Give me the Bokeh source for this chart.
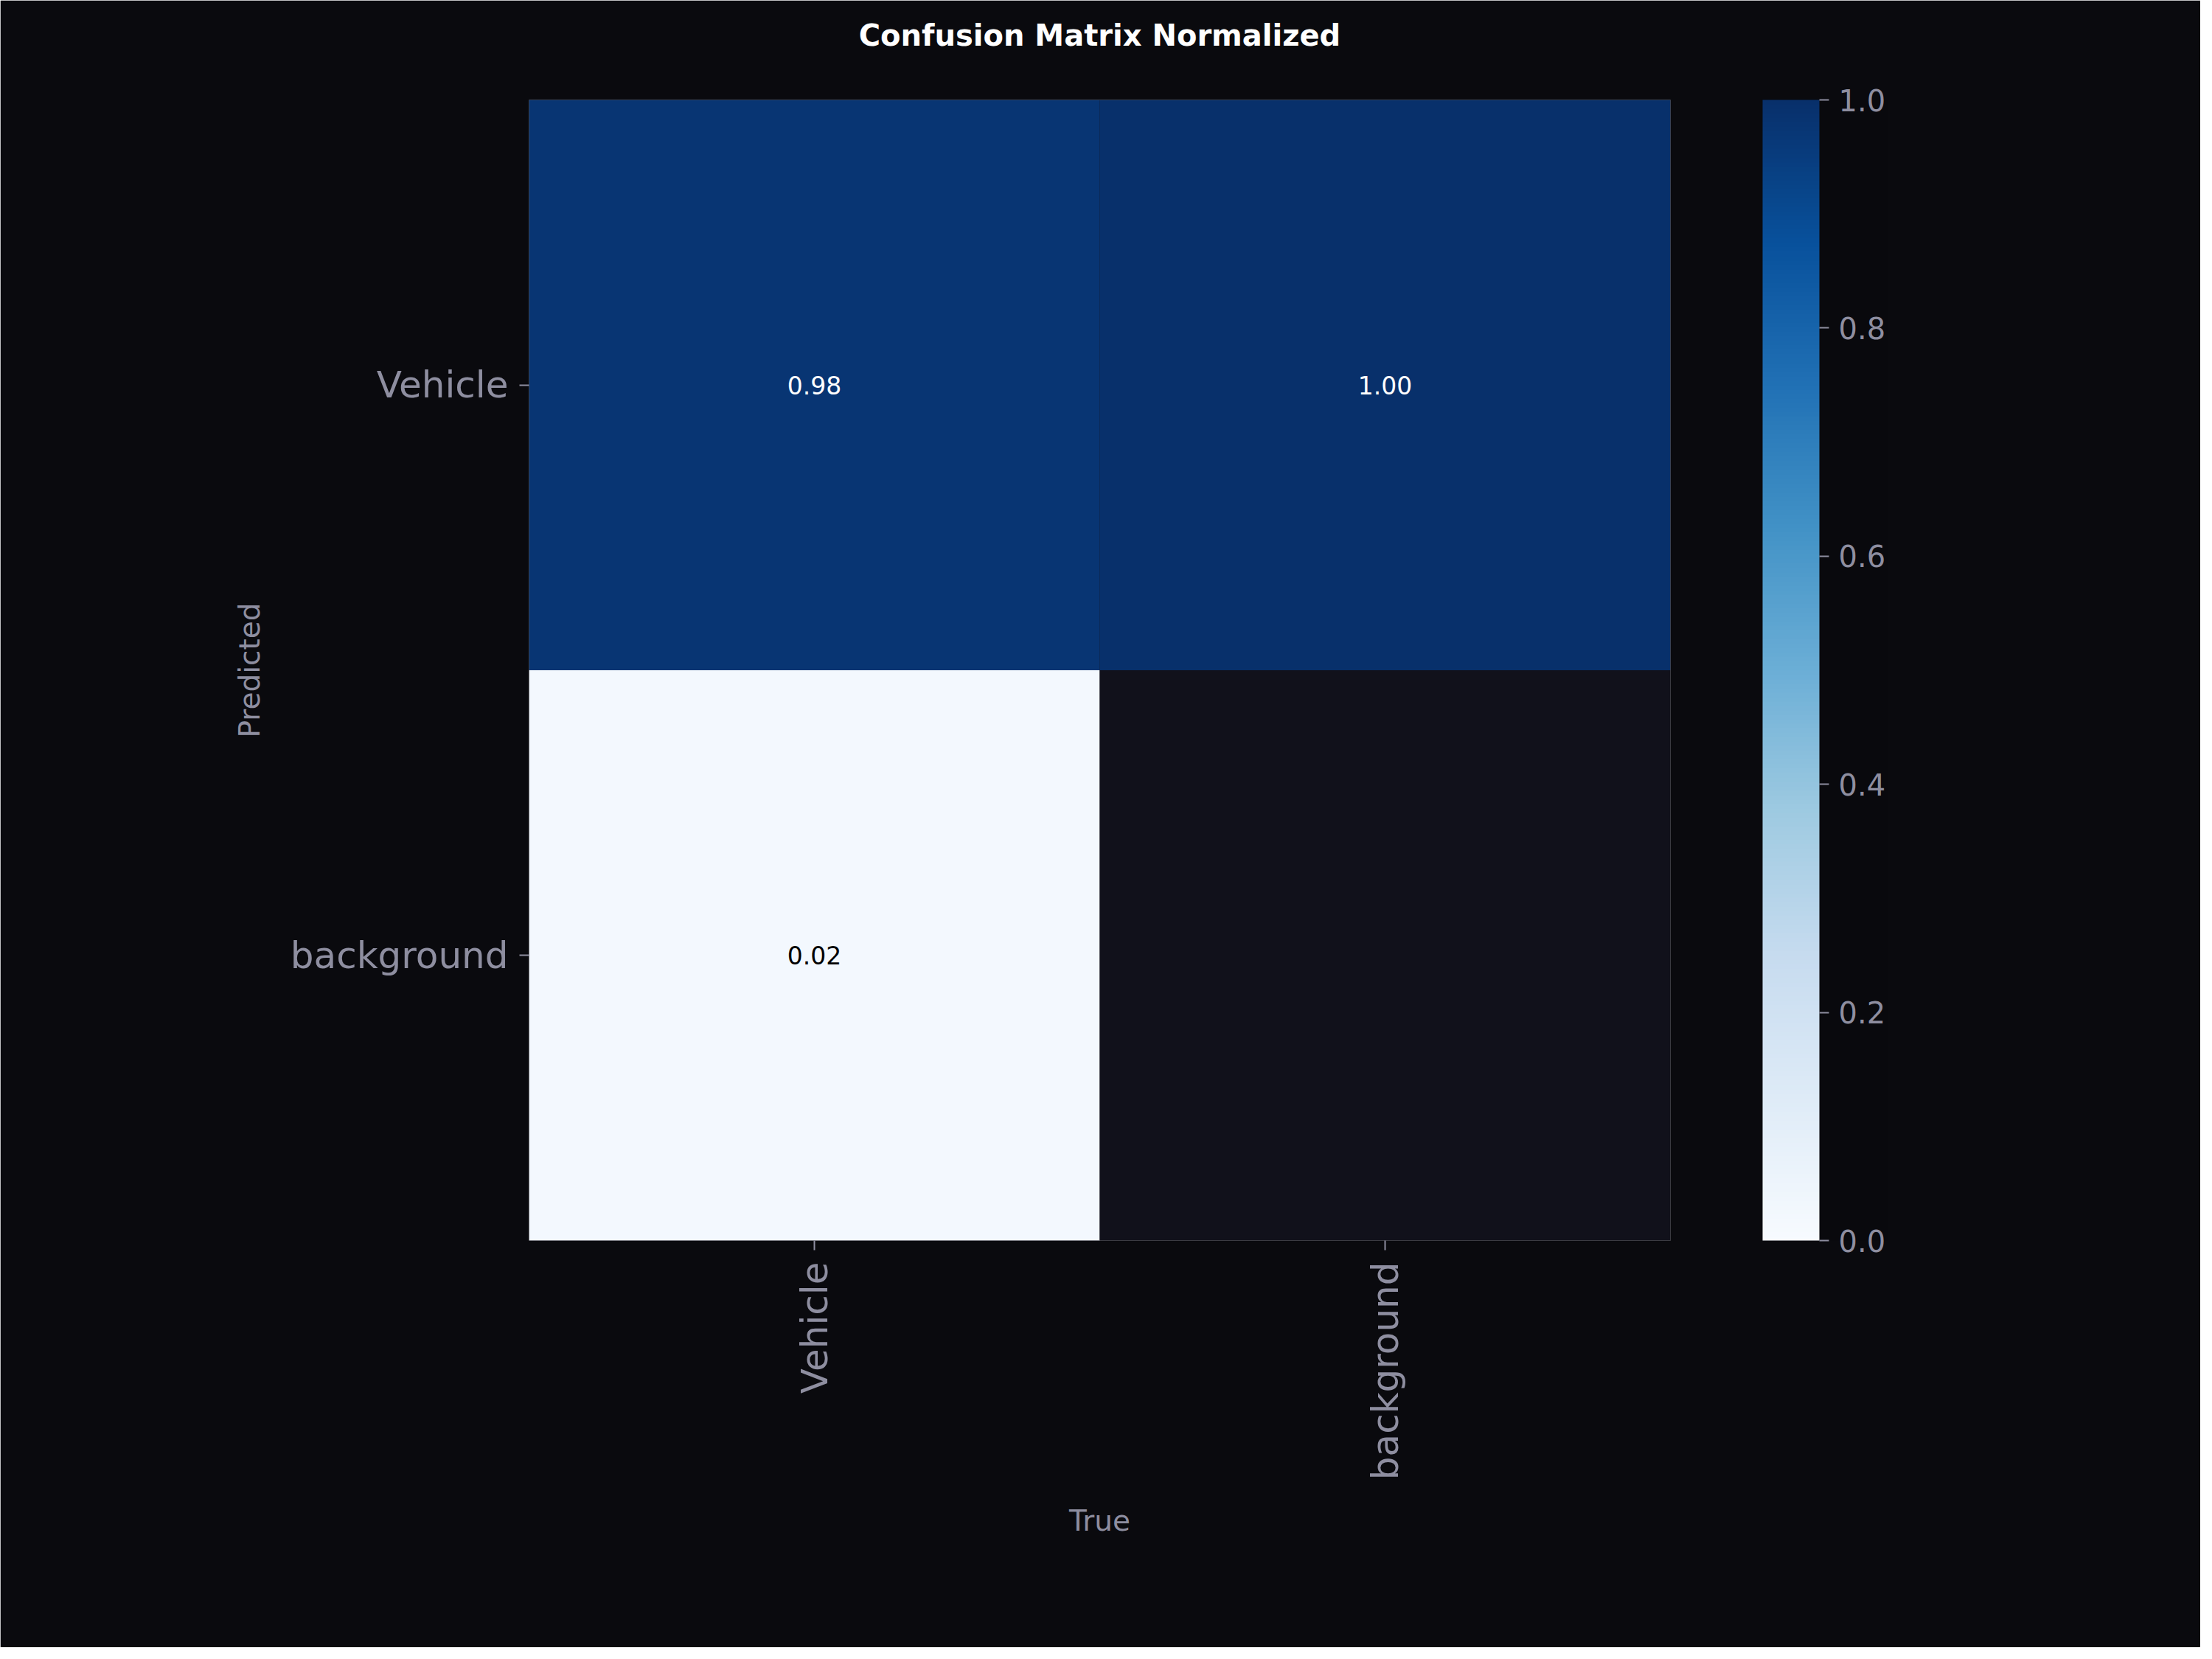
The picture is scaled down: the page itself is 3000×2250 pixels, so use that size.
import math

from bokeh.core.properties import value
from bokeh.embed import file_html
from bokeh.models import (CategoricalAxis, ColorBar, ColumnDataSource, FactorRange,
                          FixedTicker, LinearColorMapper, PrintfTickFormatter)
from bokeh.palettes import Blues256
from bokeh.plotting import figure
from bokeh.resources import INLINE

# data
true_labels = ["Vehicle", "background"]
pred_labels = ["background", "Vehicle"]  # bottom to top
cell_true = ["Vehicle", "background", "Vehicle", "background"]
cell_pred = ["Vehicle", "Vehicle", "background", "background"]
cell_value = [0.98, 1.00, 0.02, float("nan")]
cell_text = ["0.98", "1.00", "0.02", ""]
cbar_ticks = [0.0, 0.2, 0.4, 0.6, 0.8, 1.0]

BG = "#0a0a0e"
AX_BG = "#11111b"
GREY = "#8e8ea0"
FONT = "DejaVu Sans"

# light -> dark
palette = sorted(Blues256, key=lambda c: -sum(int(c[i:i + 2], 16) for i in (1, 3, 5)))
mapper = LinearColorMapper(palette=palette, low=0, high=1, nan_color=AX_BG)

cells = ColumnDataSource(dict(t=cell_true, p=cell_pred, v=cell_value))
shown = [i for i, s in enumerate(cell_text) if s]
notes = ColumnDataSource(dict(
    t=[cell_true[i] for i in shown], p=[cell_pred[i] for i in shown],
    label=[cell_text[i] for i in shown],
    tc=["white" if cell_value[i] > 0.5 else "black" for i in shown]))

p = figure(width=2984, height=2234, x_range=true_labels, y_range=pred_labels,
           output_backend="svg", toolbar_location=None,
           min_border_left=717, min_border_right=719,
           min_border_top=135, min_border_bottom=552)
p.background_fill_color = AX_BG
p.border_fill_color = BG
p.outline_line_color = None
p.grid.grid_line_color = None

p.rect(x="t", y="p", width=1, height=1, source=cells,
       fill_color={"field": "v", "transform": mapper}, line_color=None)
p.text(x="t", y="p", text="label", source=notes, text_color="tc",
       text_align="center", text_baseline="middle",
       text_font=value(FONT), text_font_size="33px")

# trailing empty line lifts the title away from the frame
p.title.text = "Confusion Matrix Normalized\n"
p.title.text_color = "white"
p.title.text_font = FONT
p.title.text_font_size = "40px"
p.title.text_font_style = "bold"
p.title.text_line_height = 1.4
p.title.align = "center"
p.title.standoff = 0

for ax in (p.xaxis, p.yaxis):
    ax.axis_line_color = None
    ax.major_tick_line_color = GREY
    ax.major_tick_line_width = 2
    ax.major_tick_in = 0
    ax.major_tick_out = 13
    ax.minor_tick_line_color = None
    ax.major_label_text_color = GREY
    ax.major_label_text_font = FONT
    ax.major_label_text_font_size = "50px"
    ax.axis_label_text_color = GREY
    ax.axis_label_text_font = FONT
    ax.axis_label_text_font_size = "39px"
    ax.axis_label_text_font_style = "normal"

p.xaxis.axis_label = "True"
p.xaxis.major_label_orientation = math.pi / 2
p.xaxis.major_label_standoff = 16
p.xaxis.axis_label_standoff = 30
p.yaxis.axis_label = "Predicted"
p.yaxis.major_label_standoff = 15
p.yaxis.axis_label_standoff = 30

# empty axis on the right, only used as a gap before the colour bar
p.extra_y_ranges = {"gap": FactorRange(factors=["gap"])}
gap = CategoricalAxis(y_range_name="gap", axis_line_color=None,
                      major_tick_line_color=None, major_tick_in=0, major_tick_out=125,
                      major_label_text_font_size="0px", major_label_standoff=0)
p.add_layout(gap, "right")

cbar = ColorBar(color_mapper=mapper, ticker=FixedTicker(ticks=cbar_ticks),
                formatter=PrintfTickFormatter(format="%.1f"),
                width=77, height=1547, padding=0,
                major_tick_in=0, major_tick_out=13,
                major_tick_line_color=GREY, major_tick_line_width=2,
                bar_line_color=None, minor_tick_line_color=None,
                major_label_text_color=GREY, major_label_text_font=FONT,
                major_label_text_font_size="40px", label_standoff=13,
                background_fill_color=BG, border_line_color=None)
p.add_layout(cbar, "right")

open("out.html", "w").write(file_html(p, INLINE))
